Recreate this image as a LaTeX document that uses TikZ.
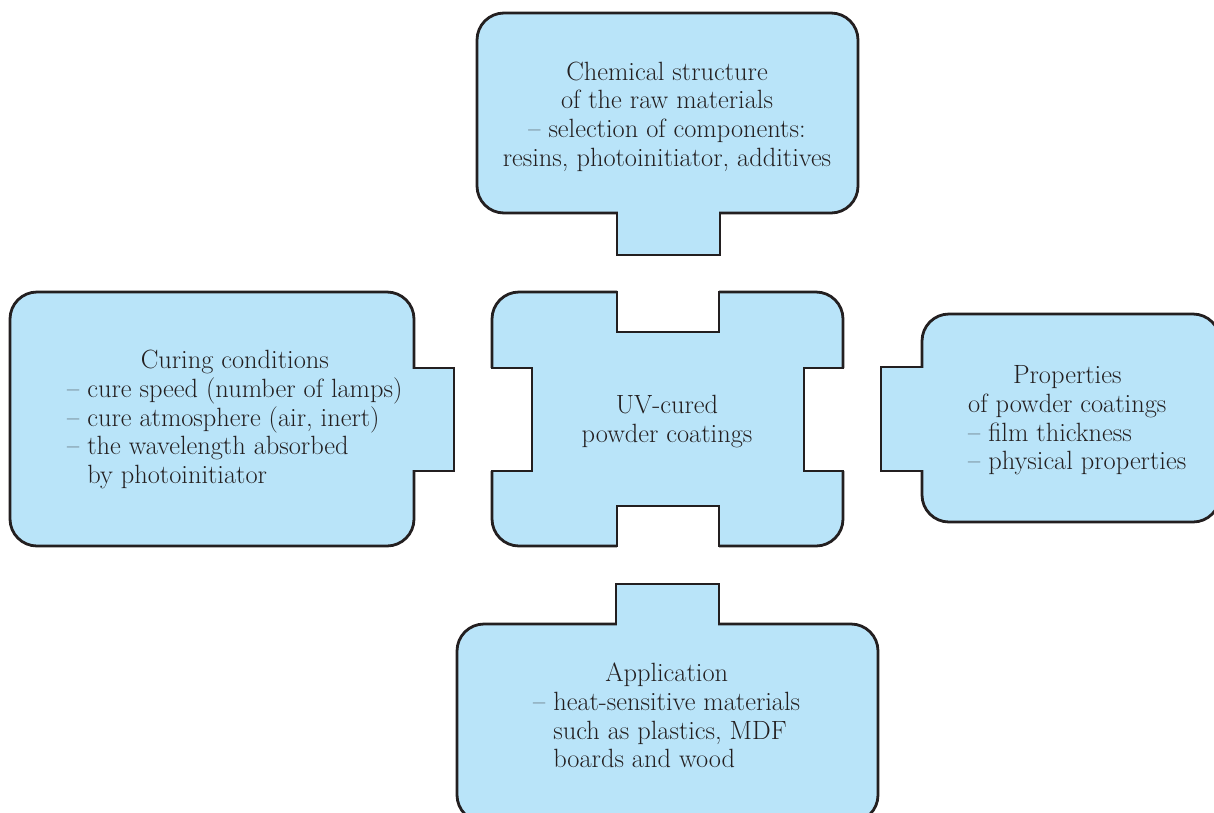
\documentclass[tikz,border=0pt]{standalone}
\usepackage{array}
\definecolor{boxfill}{RGB}{185,228,249}
\definecolor{boxline}{RGB}{35,31,32}
\newlength\pcw
\tikzset{
  shapebox/.style={fill=boxfill, draw=boxline, line width=2.8pt, rounded corners=27pt},
  tabbox/.style={fill=boxfill, draw=boxline, line width=2.8pt},
  joincover/.style={fill=boxfill},
  notchfill/.style={fill=white},
  notchline/.style={draw=boxline, line width=2.8pt, line join=miter},
  lbl/.style={inner sep=0pt, text=boxline, font=\fontsize{26.4}{28.7}\selectfont}
}
\begin{document}
\begin{tikzpicture}[x=1pt,y=-1pt]
\useasboundingbox (0,0) rectangle (1214,812);
\clip (0,0) rectangle (1214,812);
% top box
\draw[shapebox] (477,13) rectangle (858,213);
\draw[tabbox] (617,213) rectangle (720,255);
\fill[joincover] (618.4,210) rectangle (718.6,215);
% centre piece
\draw[shapebox] (492,292) rectangle (843,546);
\fill[notchfill] (617,286) rectangle (719,332);
\draw[notchline] (617,290.6) -- (617,332) -- (719,332) -- (719,290.6);
\fill[notchfill] (617,506) rectangle (719,552);
\draw[notchline] (617,547.4) -- (617,506) -- (719,506) -- (719,547.4);
\fill[notchfill] (486,368) rectangle (532,471);
\draw[notchline] (490.6,368) -- (532,368) -- (532,471) -- (490.6,471);
\fill[notchfill] (804,368) rectangle (849,471);
\draw[notchline] (844.4,368) -- (804,368) -- (804,471) -- (844.4,471);
% left box
\draw[shapebox] (10,292) rectangle (414,546);
\draw[tabbox] (414,368) rectangle (454,471);
\fill[joincover] (410,369.4) rectangle (416,469.6);
% right box
\draw[shapebox] (922,314) rectangle (1220,522);
\draw[tabbox] (881,367) rectangle (922,471);
\fill[joincover] (920,368.4) rectangle (926,469.6);
% bottom box
\draw[shapebox] (457,624) rectangle (878,822);
\draw[tabbox] (616,584) rectangle (719,624);
\fill[joincover] (617.4,622) rectangle (717.6,628);
% texts
\node[lbl] (chem) at (667,117.5) {\begin{tabular}{@{}c@{}}Chemical structure\\of the raw materials\\– selection of components:\\resins, photoinitiator, additives\end{tabular}};
\node[lbl] (uv) at (667,422) {\begin{tabular}{@{}c@{}}UV-cured\\powder coatings\end{tabular}};
\node[lbl, anchor=west] (cure) at (67,420.3) {\begin{tabular}{@{}l@{}}\multicolumn{1}{@{}c@{}}{Curing conditions}\\– cure speed (number of lamps)\\– cure atmosphere (air, inert)\\– the wavelength absorbed\\\hphantom{– }by photoinitiator\end{tabular}};
\node[lbl, anchor=west] (prop) at (968,421) {\settowidth{\pcw}{of powder coatings}\begin{tabular}{@{}l@{}}\makebox[\pcw][c]{Properties}\\of powder coatings\\– film thickness\\– physical properties\end{tabular}};
\node[lbl, anchor=west] (app) at (533,719) {\begin{tabular}{@{}l@{}}\multicolumn{1}{@{}c@{}}{Application}\\– heat-sensitive materials\\\hphantom{– }such as plastics, MDF\\\hphantom{– }boards and wood\end{tabular}};
\end{tikzpicture}
\end{document}
